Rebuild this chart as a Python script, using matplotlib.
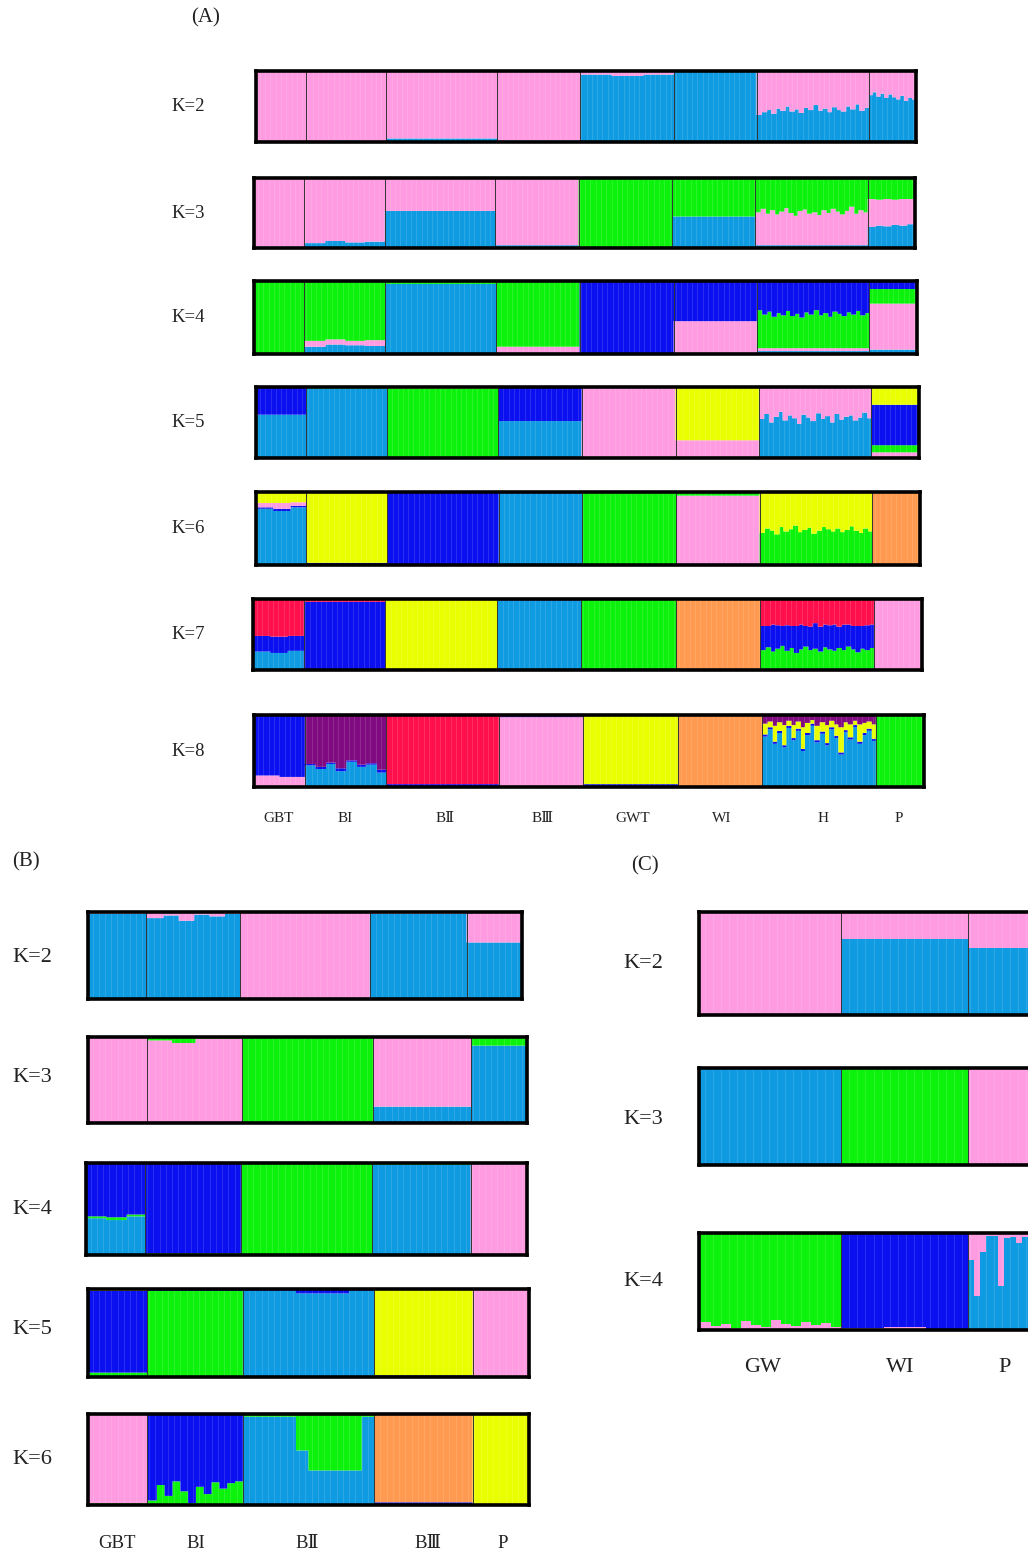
import numpy as np
import matplotlib
matplotlib.use('Agg')
import matplotlib.pyplot as plt

plt.rcParams['font.family'] = ['Liberation Serif', 'DejaVu Serif']

# ---------------- colours ----------------
PK = '#FF9BE0'
LB = '#0F9BE1'
GR = '#0CF20C'
DB = '#0A10F0'
YE = '#E9FF00'
OR = '#FF9A50'
RD = '#FF0F4B'
PU = '#800A80'

# ---------------- populations ----------------
POPS_A = ['GBT', 'BI', 'BⅡ', 'BⅢ', 'GWT', 'WI', 'H', 'P']
N_A = [38, 61, 84, 63, 71, 63, 85, 36]
POPS_B = ['GBT', 'BI', 'BⅡ', 'BⅢ', 'P']
N_B = [38, 61, 84, 63, 36]
POPS_C = ['GW', 'WI', 'P']
N_C = [71, 63, 36]

# ---------------- panel A membership (bottom -> top), rows spread over each population ----------------
A_K2_colors = [LB, PK]
A_K2 = [
    [[0.01, 0.99]],
    [[0.01, 0.99], [0.02, 0.98], [0.01, 0.99]],
    [[0.05, 0.95]],
    [[0.02, 0.98]],
    [[0.95, 0.05], [0.93, 0.07], [0.95, 0.05]],
    [[0.99, 0.01]],
    [[0.38, 0.62], [0.42, 0.58], [0.45, 0.55], [0.40, 0.60], [0.47, 0.53], [0.44, 0.56],
     [0.50, 0.50], [0.43, 0.57], [0.46, 0.54], [0.41, 0.59], [0.48, 0.52], [0.45, 0.55],
     [0.52, 0.48], [0.44, 0.56], [0.47, 0.53], [0.42, 0.58], [0.49, 0.51], [0.45, 0.55],
     [0.43, 0.57], [0.50, 0.50], [0.46, 0.54], [0.53, 0.47], [0.44, 0.56], [0.48, 0.52]],
    [[0.66, 0.34], [0.70, 0.30], [0.64, 0.36], [0.68, 0.32], [0.62, 0.38], [0.67, 0.33],
     [0.63, 0.37], [0.60, 0.40], [0.65, 0.35], [0.58, 0.42], [0.62, 0.38], [0.60, 0.40]],
]

A_K3_colors = [LB, PK, GR]
A_K3 = [
    [[0.02, 0.98, 0.0]],
    [[0.07, 0.93, 0.0], [0.10, 0.90, 0.0], [0.08, 0.92, 0.0], [0.09, 0.91, 0.0]],
    [[0.53, 0.47, 0.0]],
    [[0.04, 0.96, 0.0]],
    [[0.01, 0.0, 0.99]],
    [[0.45, 0.0, 0.55]],
    [[0.04, 0.47, 0.49], [0.04, 0.52, 0.44], [0.04, 0.45, 0.51], [0.04, 0.50, 0.46],
     [0.04, 0.44, 0.52], [0.04, 0.48, 0.48], [0.04, 0.53, 0.43], [0.04, 0.46, 0.50],
     [0.04, 0.42, 0.54], [0.04, 0.49, 0.47], [0.04, 0.51, 0.45], [0.04, 0.45, 0.51],
     [0.04, 0.47, 0.49], [0.04, 0.43, 0.53], [0.04, 0.50, 0.46], [0.04, 0.46, 0.50],
     [0.04, 0.52, 0.44], [0.04, 0.48, 0.48], [0.04, 0.44, 0.52], [0.04, 0.49, 0.47],
     [0.04, 0.55, 0.41], [0.04, 0.45, 0.51], [0.04, 0.50, 0.46], [0.04, 0.47, 0.49]],
    [[0.30, 0.40, 0.30], [0.32, 0.37, 0.31], [0.31, 0.39, 0.30], [0.33, 0.36, 0.31],
     [0.32, 0.38, 0.30], [0.34, 0.36, 0.30]],
]

A_K4_colors = [LB, PK, GR, DB]
A_K4 = [
    [[0.01, 0.0, 0.99, 0.0]],
    [[0.10, 0.08, 0.82, 0.0], [0.13, 0.07, 0.80, 0.0], [0.12, 0.06, 0.82, 0.0], [0.11, 0.08, 0.81, 0.0]],
    [[0.96, 0.0, 0.04, 0.0]],
    [[0.0, 0.10, 0.90, 0.0]],
    [[0.0, 0.0, 0.01, 0.99]],
    [[0.0, 0.45, 0.0, 0.55]],
    [[0.04, 0.04, 0.52, 0.40], [0.04, 0.04, 0.46, 0.46], [0.04, 0.04, 0.50, 0.42], [0.04, 0.04, 0.43, 0.49],
     [0.04, 0.04, 0.48, 0.44], [0.04, 0.04, 0.45, 0.47], [0.04, 0.04, 0.51, 0.41], [0.04, 0.04, 0.44, 0.48],
     [0.04, 0.04, 0.47, 0.45], [0.04, 0.04, 0.42, 0.50], [0.04, 0.04, 0.49, 0.43], [0.04, 0.04, 0.46, 0.46],
     [0.04, 0.04, 0.52, 0.40], [0.04, 0.04, 0.45, 0.47], [0.04, 0.04, 0.48, 0.44], [0.04, 0.04, 0.43, 0.49],
     [0.04, 0.04, 0.50, 0.42], [0.04, 0.04, 0.47, 0.45], [0.04, 0.04, 0.44, 0.48], [0.04, 0.04, 0.49, 0.43],
     [0.04, 0.04, 0.46, 0.46], [0.04, 0.04, 0.51, 0.41], [0.04, 0.04, 0.45, 0.47], [0.04, 0.04, 0.48, 0.44]],
    [[0.06, 0.63, 0.20, 0.11]],
]

A_K5_colors = [LB, PK, GR, DB, YE]
A_K5 = [
    [[0.61, 0.0, 0.0, 0.39, 0.0]],
    [[0.98, 0.0, 0.01, 0.01, 0.0]],
    [[0.0, 0.0, 0.98, 0.0, 0.02]],
    [[0.52, 0.0, 0.0, 0.48, 0.0]],
    [[0.0, 1.0, 0.0, 0.0, 0.0]],
    [[0.0, 0.25, 0.0, 0.0, 0.75]],
    [[0.55, 0.44, 0.0, 0.01, 0.0], [0.62, 0.37, 0.0, 0.01, 0.0], [0.50, 0.49, 0.0, 0.01, 0.0],
     [0.58, 0.41, 0.0, 0.01, 0.0], [0.65, 0.34, 0.0, 0.01, 0.0], [0.53, 0.46, 0.0, 0.01, 0.0],
     [0.60, 0.39, 0.0, 0.01, 0.0], [0.56, 0.43, 0.0, 0.01, 0.0], [0.48, 0.51, 0.0, 0.01, 0.0],
     [0.61, 0.38, 0.0, 0.01, 0.0], [0.57, 0.42, 0.0, 0.01, 0.0], [0.52, 0.47, 0.0, 0.01, 0.0],
     [0.63, 0.36, 0.0, 0.01, 0.0], [0.55, 0.44, 0.0, 0.01, 0.0], [0.59, 0.40, 0.0, 0.01, 0.0],
     [0.50, 0.49, 0.0, 0.01, 0.0], [0.62, 0.37, 0.0, 0.01, 0.0], [0.54, 0.45, 0.0, 0.01, 0.0],
     [0.58, 0.41, 0.0, 0.01, 0.0], [0.60, 0.39, 0.0, 0.01, 0.0], [0.53, 0.46, 0.0, 0.01, 0.0],
     [0.57, 0.42, 0.0, 0.01, 0.0], [0.64, 0.35, 0.0, 0.01, 0.0], [0.56, 0.43, 0.0, 0.01, 0.0]],
    [[0.0, 0.08, 0.10, 0.57, 0.25]],
]

A_K6_colors = [LB, DB, PK, GR, YE, OR]
A_K6 = [
    [[0.77, 0.02, 0.06, 0.0, 0.15, 0.0], [0.74, 0.03, 0.08, 0.0, 0.15, 0.0], [0.79, 0.02, 0.05, 0.0, 0.14, 0.0]],
    [[0.01, 0.02, 0.0, 0.0, 0.97, 0.0]],
    [[0.0, 0.99, 0.0, 0.0, 0.01, 0.0]],
    [[0.98, 0.01, 0.0, 0.0, 0.01, 0.0]],
    [[0.0, 0.0, 0.0, 0.99, 0.01, 0.0]],
    [[0.0, 0.0, 0.95, 0.05, 0.0, 0.0]],
    [[0.02, 0.0, 0.0, 0.42, 0.56, 0.0], [0.02, 0.0, 0.0, 0.48, 0.50, 0.0], [0.02, 0.0, 0.0, 0.45, 0.53, 0.0],
     [0.02, 0.0, 0.0, 0.40, 0.58, 0.0], [0.02, 0.0, 0.0, 0.50, 0.48, 0.0], [0.02, 0.0, 0.0, 0.44, 0.54, 0.0],
     [0.02, 0.0, 0.0, 0.47, 0.51, 0.0], [0.02, 0.0, 0.0, 0.52, 0.46, 0.0], [0.02, 0.0, 0.0, 0.43, 0.55, 0.0],
     [0.02, 0.0, 0.0, 0.46, 0.52, 0.0], [0.02, 0.0, 0.0, 0.49, 0.49, 0.0], [0.02, 0.0, 0.0, 0.41, 0.57, 0.0],
     [0.02, 0.0, 0.0, 0.45, 0.53, 0.0], [0.02, 0.0, 0.0, 0.50, 0.48, 0.0], [0.02, 0.0, 0.0, 0.47, 0.51, 0.0],
     [0.02, 0.0, 0.0, 0.44, 0.54, 0.0], [0.02, 0.0, 0.0, 0.48, 0.50, 0.0], [0.02, 0.0, 0.0, 0.43, 0.55, 0.0],
     [0.02, 0.0, 0.0, 0.46, 0.52, 0.0], [0.02, 0.0, 0.0, 0.51, 0.47, 0.0], [0.02, 0.0, 0.0, 0.45, 0.53, 0.0],
     [0.02, 0.0, 0.0, 0.42, 0.56, 0.0], [0.02, 0.0, 0.0, 0.48, 0.50, 0.0], [0.02, 0.0, 0.0, 0.44, 0.54, 0.0]],
    [[0.0, 0.0, 0.0, 0.0, 0.0, 1.0]],
]

A_K7_colors = [LB, GR, DB, RD, YE, OR, PK]
A_K7 = [
    [[0.26, 0.0, 0.22, 0.52, 0.0, 0.0, 0.0], [0.24, 0.0, 0.23, 0.53, 0.0, 0.0, 0.0], [0.27, 0.0, 0.21, 0.52, 0.0, 0.0, 0.0]],
    [[0.01, 0.0, 0.95, 0.04, 0.0, 0.0, 0.0]],
    [[0.0, 0.0, 0.01, 0.0, 0.99, 0.0, 0.0]],
    [[0.98, 0.0, 0.01, 0.01, 0.0, 0.0, 0.0]],
    [[0.0, 0.99, 0.0, 0.0, 0.01, 0.0, 0.0]],
    [[0.0, 0.0, 0.0, 0.0, 0.0, 1.0, 0.0]],
    [[0.02, 0.26, 0.34, 0.38, 0, 0, 0], [0.02, 0.30, 0.30, 0.38, 0, 0, 0], [0.02, 0.24, 0.38, 0.36, 0, 0, 0],
     [0.02, 0.28, 0.33, 0.37, 0, 0, 0], [0.02, 0.32, 0.28, 0.38, 0, 0, 0], [0.02, 0.25, 0.36, 0.37, 0, 0, 0],
     [0.02, 0.29, 0.31, 0.38, 0, 0, 0], [0.02, 0.22, 0.38, 0.38, 0, 0, 0], [0.02, 0.27, 0.35, 0.36, 0, 0, 0],
     [0.02, 0.31, 0.29, 0.38, 0, 0, 0], [0.02, 0.26, 0.33, 0.39, 0, 0, 0], [0.02, 0.28, 0.36, 0.34, 0, 0, 0],
     [0.02, 0.24, 0.35, 0.39, 0, 0, 0], [0.02, 0.30, 0.32, 0.36, 0, 0, 0], [0.02, 0.27, 0.34, 0.37, 0, 0, 0],
     [0.02, 0.25, 0.37, 0.36, 0, 0, 0], [0.02, 0.29, 0.30, 0.39, 0, 0, 0], [0.02, 0.26, 0.36, 0.36, 0, 0, 0],
     [0.02, 0.31, 0.31, 0.36, 0, 0, 0], [0.02, 0.27, 0.33, 0.38, 0, 0, 0], [0.02, 0.23, 0.37, 0.38, 0, 0, 0],
     [0.02, 0.28, 0.32, 0.38, 0, 0, 0], [0.02, 0.26, 0.35, 0.37, 0, 0, 0], [0.02, 0.29, 0.33, 0.36, 0, 0, 0]],
    [[0.0, 0.0, 0.0, 0.0, 0.0, 0.0, 1.0]],
]

A_K8_colors = [LB, PK, DB, YE, RD, PU, OR, GR]
A_K8 = [
    [[0.0, 0.16, 0.83, 0.0, 0.0, 0.01, 0.0, 0.0], [0.0, 0.14, 0.85, 0.0, 0.0, 0.01, 0.0, 0.0]],
    [[0.30, 0, 0.02, 0, 0, 0.68, 0, 0], [0.25, 0, 0.03, 0, 0, 0.72, 0, 0], [0.32, 0, 0.02, 0, 0, 0.66, 0, 0],
     [0.22, 0, 0.04, 0, 0, 0.74, 0, 0], [0.35, 0, 0.02, 0, 0, 0.63, 0, 0], [0.28, 0, 0.03, 0, 0, 0.69, 0, 0],
     [0.31, 0, 0.02, 0, 0, 0.67, 0, 0], [0.20, 0, 0.04, 0, 0, 0.76, 0, 0]],
    [[0.0, 0.0, 0.04, 0.0, 0.96, 0.0, 0.0, 0.0]],
    [[0.01, 0.96, 0.01, 0.0, 0.0, 0.02, 0.0, 0.0]],
    [[0.0, 0.0, 0.04, 0.96, 0.0, 0.0, 0.0, 0.0]],
    [[0.0, 0.0, 0.0, 0.0, 0.0, 0.0, 1.0, 0.0]],
    [[0.70, 0, 0.03, 0.15, 0, 0.12, 0, 0], [0.80, 0, 0.03, 0.08, 0, 0.09, 0, 0], [0.60, 0, 0.03, 0.22, 0, 0.15, 0, 0],
     [0.75, 0, 0.03, 0.12, 0, 0.10, 0, 0], [0.55, 0, 0.03, 0.28, 0, 0.14, 0, 0], [0.82, 0, 0.03, 0.07, 0, 0.08, 0, 0],
     [0.65, 0, 0.03, 0.18, 0, 0.14, 0, 0], [0.78, 0, 0.03, 0.10, 0, 0.09, 0, 0], [0.50, 0, 0.03, 0.30, 0, 0.17, 0, 0],
     [0.72, 0, 0.03, 0.14, 0, 0.11, 0, 0], [0.85, 0, 0.03, 0.05, 0, 0.07, 0, 0], [0.62, 0, 0.03, 0.20, 0, 0.15, 0, 0],
     [0.74, 0, 0.03, 0.13, 0, 0.10, 0, 0], [0.58, 0, 0.03, 0.25, 0, 0.14, 0, 0], [0.80, 0, 0.03, 0.09, 0, 0.08, 0, 0],
     [0.68, 0, 0.03, 0.16, 0, 0.13, 0, 0], [0.45, 0, 0.03, 0.35, 0, 0.17, 0, 0], [0.76, 0, 0.03, 0.11, 0, 0.10, 0, 0],
     [0.66, 0, 0.03, 0.18, 0, 0.13, 0, 0], [0.83, 0, 0.03, 0.06, 0, 0.08, 0, 0], [0.60, 0, 0.03, 0.24, 0, 0.13, 0, 0],
     [0.72, 0, 0.03, 0.14, 0, 0.11, 0, 0], [0.78, 0, 0.03, 0.10, 0, 0.09, 0, 0], [0.64, 0, 0.03, 0.20, 0, 0.13, 0, 0]],
    [[0.0, 0.0, 0.0, 0.0, 0.0, 0.0, 0.0, 1.0]],
]

# ---------------- panel B ----------------
B_K2_colors = [LB, PK]
B_K2 = [
    [[0.98, 0.02]],
    [[0.93, 0.07], [0.96, 0.04], [0.90, 0.10], [0.97, 0.03], [0.95, 0.05], [0.98, 0.02]],
    [[0.01, 0.99]],
    [[0.98, 0.02]],
    [[0.65, 0.35]],
]
B_K3_colors = [LB, PK, GR]
B_K3 = [
    [[0.01, 0.99, 0.0]],
    [[0.0, 0.96, 0.04], [0.0, 0.93, 0.07], [0.0, 0.98, 0.02], [0.0, 0.98, 0.02]],
    [[0.0, 0.01, 0.99]],
    [[0.19, 0.81, 0.0]],
    [[0.90, 0.0, 0.10]],
]
B_K4_colors = [LB, GR, PK, DB]
B_K4 = [
    [[0.40, 0.02, 0.0, 0.58], [0.38, 0.03, 0.0, 0.59], [0.42, 0.02, 0.0, 0.56]],
    [[0.0, 0.02, 0.0, 0.98]],
    [[0.0, 0.99, 0.0, 0.01]],
    [[0.98, 0.01, 0.0, 0.01]],
    [[0.0, 0.0, 1.0, 0.0]],
]
B_K5_colors = [GR, LB, DB, YE, PK]
B_K5 = [
    [[0.05, 0.0, 0.93, 0.02, 0.0]],
    [[0.98, 0.0, 0.01, 0.01, 0.0]],
    [[0.0, 0.98, 0.02, 0.0, 0.0], [0.0, 0.98, 0.02, 0.0, 0.0], [0.0, 0.95, 0.05, 0.0, 0.0],
     [0.0, 0.95, 0.05, 0.0, 0.0], [0.0, 0.98, 0.02, 0.0, 0.0]],
    [[0.01, 0.0, 0.01, 0.98, 0.0]],
    [[0.0, 0.0, 0.0, 0.0, 1.0]],
]
B_K6_colors = [LB, GR, DB, PK, OR, YE]
B_K6 = [
    [[0.0, 0.02, 0.0, 0.98, 0.0, 0.0]],
    [[0, 0.05, 0.95, 0, 0, 0], [0, 0.22, 0.78, 0, 0, 0], [0, 0.10, 0.90, 0, 0, 0], [0, 0.26, 0.74, 0, 0, 0],
     [0, 0.15, 0.85, 0, 0, 0], [0, 0.02, 0.98, 0, 0, 0], [0, 0.20, 0.80, 0, 0, 0], [0, 0.12, 0.88, 0, 0, 0],
     [0, 0.25, 0.75, 0, 0, 0], [0, 0.18, 0.82, 0, 0, 0], [0, 0.24, 0.76, 0, 0, 0], [0, 0.26, 0.74, 0, 0, 0]],
    [[0.97, 0.03, 0, 0, 0, 0], [0.97, 0.03, 0, 0, 0, 0], [0.97, 0.03, 0, 0, 0, 0], [0.97, 0.03, 0, 0, 0, 0],
     [0.60, 0.40, 0, 0, 0, 0], [0.38, 0.62, 0, 0, 0, 0], [0.38, 0.62, 0, 0, 0, 0], [0.38, 0.62, 0, 0, 0, 0],
     [0.38, 0.62, 0, 0, 0, 0], [0.97, 0.03, 0, 0, 0, 0]],
    [[0.01, 0.0, 0.02, 0.0, 0.97, 0.0]],
    [[0.0, 0.0, 0.0, 0.0, 0.0, 1.0]],
]

# ---------------- panel C ----------------
C_K2_colors = [LB, PK]
C_K2 = [
    [[0.01, 0.99]],
    [[0.74, 0.26]],
    [[0.65, 0.35]],
]
C_K3_colors = [LB, GR, PK]
C_K3 = [
    [[0.99, 0.01, 0.0]],
    [[0.0, 0.99, 0.01]],
    [[0.01, 0.0, 0.99]],
]
C_K4_colors = [LB, PK, GR, DB]
C_K4 = [
    [[0, 0.08, 0.91, 0.01], [0, 0.04, 0.95, 0.01], [0, 0.06, 0.93, 0.01], [0, 0.02, 0.97, 0.01],
     [0, 0.09, 0.90, 0.01], [0, 0.05, 0.94, 0.01], [0, 0.03, 0.96, 0.01], [0, 0.10, 0.89, 0.01],
     [0, 0.06, 0.93, 0.01], [0, 0.04, 0.95, 0.01], [0, 0.08, 0.91, 0.01], [0, 0.05, 0.94, 0.01],
     [0, 0.07, 0.92, 0.01], [0, 0.03, 0.96, 0.01]],
    [[0.0, 0.02, 0.0, 0.98], [0.0, 0.03, 0.0, 0.97], [0.0, 0.01, 0.0, 0.99]],
    [[0.72, 0.28, 0, 0], [0.35, 0.65, 0, 0], [0.80, 0.20, 0, 0], [0.97, 0.03, 0, 0],
     [0.97, 0.03, 0, 0], [0.45, 0.55, 0, 0], [0.95, 0.05, 0, 0], [0.96, 0.04, 0, 0],
     [0.90, 0.10, 0, 0], [0.96, 0.04, 0, 0], [0.95, 0.05, 0, 0], [0.97, 0.03, 0, 0]],
]

# ---------------- layout (pixels) ----------------
W, H = 1028, 1552
fig = plt.figure(figsize=(W / 100, H / 100), dpi=100)


def px_axes(x0, x1, y0, y1):
    return fig.add_axes([x0 / W, 1 - y1 / H, (x1 - x0) / W, (y1 - y0) / H])


def expand(pop_chunks, sizes):
    rows = []
    for chunks, n in zip(pop_chunks, sizes):
        m = len(chunks)
        for i in range(n):
            r = np.array(chunks[i * m // n], float)
            rows.append(r / r.sum())
    return np.array(rows)


def draw(ax, q_chunks, sizes, colors):
    Q = expand(q_chunks, sizes)
    n = Q.shape[0]
    edges = np.arange(n + 1)
    cum = np.zeros(n)
    for k, c in enumerate(colors):
        top = cum + Q[:, k]
        ax.stairs(top, edges, baseline=cum, fill=True, color=c, lw=0)
        cum = top
    # faint individual separators typical of STRUCTURE output
    for xi in range(3, n, 4):
        ax.axvline(xi, color='white', lw=0.5, alpha=0.18)
    for b in np.cumsum(sizes)[:-1]:
        ax.axvline(b, color='#333333', lw=0.7)
    ax.set_xlim(0, n)
    ax.set_ylim(0, 1)
    ax.set_xticks([])
    ax.set_yticks([])
    for s in ax.spines.values():
        s.set_linewidth(2.6)
        s.set_color('black')


def ktext(x, y, s, size):
    fig.text(x / W, 1 - y / H, s, ha='center', va='center', fontsize=size, color='#222222')


# Panel A
A_boxes = [(256, 916, 71, 142), (254, 915, 178, 248), (254, 917, 281, 354), (256, 919, 387, 458),
           (256, 920, 492, 565), (253, 922, 599, 670), (254, 924, 715, 787)]
A_data = [(A_K2, A_K2_colors), (A_K3, A_K3_colors), (A_K4, A_K4_colors), (A_K5, A_K5_colors),
          (A_K6, A_K6_colors), (A_K7, A_K7_colors), (A_K8, A_K8_colors)]
for i, ((x0, x1, y0, y1), (q, cols)) in enumerate(zip(A_boxes, A_data)):
    ax = px_axes(x0, x1, y0, y1)
    draw(ax, q, N_A, cols)
    ktext(188, (y0 + y1) / 2, f'K={i + 2}', 13.5)
A_lab_x = [279, 345, 445, 543, 633, 722, 823, 899]
for x, s in zip(A_lab_x, POPS_A):
    ktext(x, 818, s, 11)
ktext(206, 18, '(A)', 15)

# Panel B
B_boxes = [(88, 522, 912, 999), (88, 527, 1037, 1123), (86, 527, 1163, 1255), (88, 529, 1289, 1377),
           (88, 529, 1414, 1505)]
B_data = [(B_K2, B_K2_colors), (B_K3, B_K3_colors), (B_K4, B_K4_colors), (B_K5, B_K5_colors),
          (B_K6, B_K6_colors)]
B_lab_y = [957, 1077, 1209, 1330, 1460]
for i, ((x0, x1, y0, y1), (q, cols), ly) in enumerate(zip(B_boxes, B_data, B_lab_y)):
    ax = px_axes(x0, x1, y0, y1)
    draw(ax, q, N_B, cols)
    ktext(32, ly, f'K={i + 2}', 16)
B_lab_x = [117, 196, 307, 428, 503]
for x, s in zip(B_lab_x, POPS_B):
    ktext(x, 1543, s, 13.5)
ktext(26, 862, '(B)', 15)

# Panel C (cut off on the right as in the original)
C_boxes = [(699, 1040, 912, 1015), (699, 1040, 1068, 1165), (699, 1040, 1233, 1330)]
C_data = [(C_K2, C_K2_colors), (C_K3, C_K3_colors), (C_K4, C_K4_colors)]
C_lab_y = [964, 1119, 1282]
for i, ((x0, x1, y0, y1), (q, cols), ly) in enumerate(zip(C_boxes, C_data, C_lab_y)):
    ax = px_axes(x0, x1, y0, y1)
    draw(ax, q, N_C, cols)
    ktext(643, ly, f'K={i + 2}', 16)
C_lab_x = [763, 900, 1005]
for x, s in zip(C_lab_x, POPS_C):
    ktext(x, 1368, s, 16)
ktext(645, 866, '(C)', 15)

fig.savefig('out.png', dpi=100)
